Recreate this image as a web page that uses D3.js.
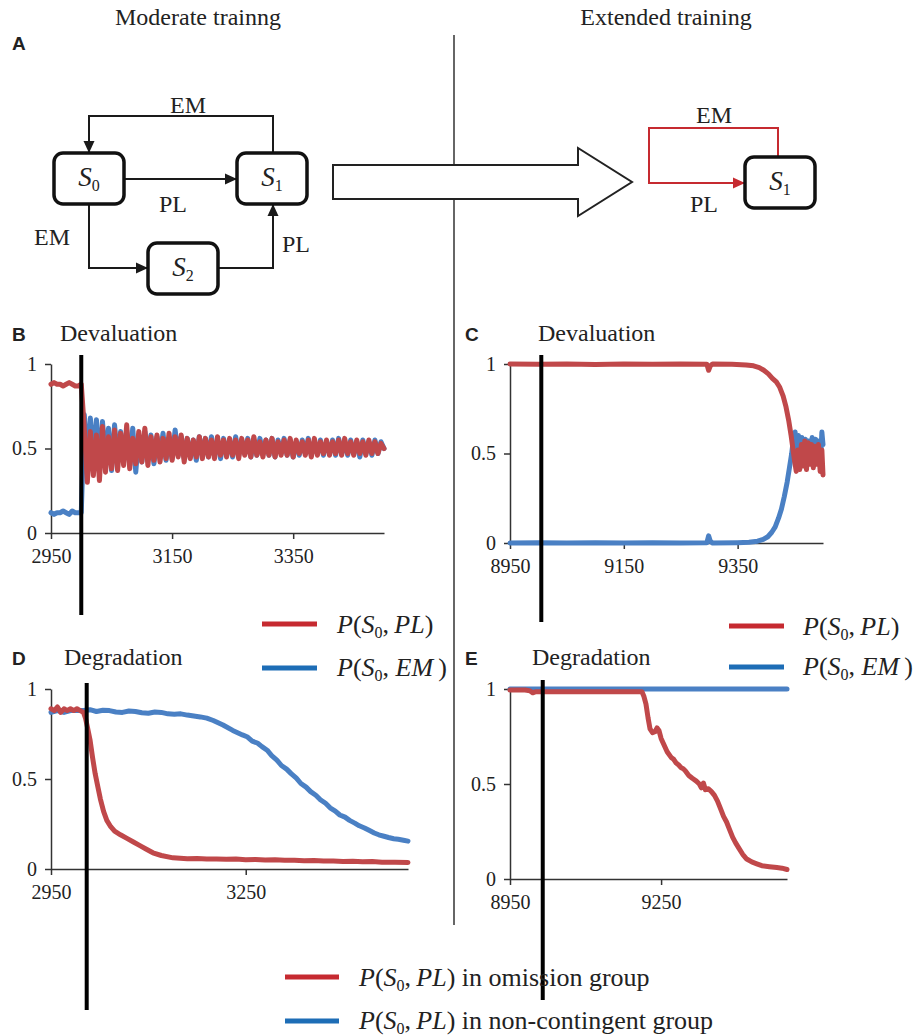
<!DOCTYPE html>
<html>
<head>
<meta charset="utf-8">
<script src="https://cdn.jsdelivr.net/npm/d3@7"></script>
<style>
body { margin: 0; background: #fff; }
</style>
</head>
<body>
<svg id="chart" width="914" height="1036"></svg>
<script>
// ---- data ----

// B: moderate training, devaluation (sampled every 5 trials from 2950)
const bStart = 2950, bStep = 5
const bRed = [
  0.88,0.89,0.88,0.88,0.87,0.88,0.89,0.88,0.87,0.87,0.88,
  0.62,0.30,0.60,0.34,0.58,0.31,0.63,0.36,0.57,0.38,
  0.61,0.37,0.59,0.40,0.64,0.38,0.56,0.41,0.60,0.42,
  0.62,0.40,0.57,0.43,0.58,0.42,0.56,0.44,0.59,0.43,
  0.57,0.45,0.58,0.42,0.56,0.44,0.55,0.45,0.57,0.44,
  0.56,0.45,0.55,0.44,0.57,0.46,0.55,0.45,0.56,0.46,
  0.55,0.44,0.56,0.46,0.55,0.45,0.57,0.46,0.54,0.45,
  0.55,0.46,0.56,0.45,0.54,0.46,0.55,0.46,0.56,0.45,
  0.55,0.47,0.54,0.46,0.55,0.45,0.56,0.46,0.54,0.47,
  0.55,0.46,0.54,0.47,0.55,0.46,0.56,0.47,0.54,0.46,
  0.55,0.47,0.54,0.46,0.55,0.47,0.54,0.47,0.53,0.50
]
const bBlue = [
  0.12,0.11,0.12,0.12,0.13,0.12,0.11,0.13,0.12,0.12,0.12,
  0.70,0.42,0.68,0.45,0.67,0.40,0.66,0.44,0.62,0.37,
  0.64,0.42,0.60,0.44,0.61,0.40,0.62,0.36,0.58,0.42,
  0.60,0.44,0.58,0.41,0.57,0.45,0.59,0.43,0.56,0.44,
  0.61,0.46,0.57,0.44,0.56,0.45,0.55,0.43,0.57,0.46,
  0.56,0.45,0.57,0.46,0.55,0.44,0.56,0.46,0.55,0.45,
  0.57,0.46,0.55,0.47,0.56,0.45,0.55,0.46,0.56,0.47,
  0.55,0.46,0.56,0.45,0.55,0.47,0.56,0.46,0.55,0.45,
  0.54,0.46,0.55,0.47,0.56,0.46,0.54,0.47,0.55,0.46,
  0.54,0.47,0.55,0.46,0.56,0.47,0.54,0.46,0.55,0.47,
  0.54,0.45,0.55,0.47,0.54,0.46,0.55,0.47,0.54,0.50
]

// C: extended training, devaluation  [trial, probability]
const cRed = [[8950,1.0],[9000,0.998],[9050,1.0],[9100,0.997],[9150,1.0],[9200,0.998],[9250,1.0],
  [9296,0.998],[9299,0.965],[9302,0.99],[9306,1.0],[9340,0.998],[9365,0.995],[9378,0.99],[9388,0.98],
  [9396,0.965],[9404,0.945],[9411,0.92],[9418,0.90],[9424,0.87],[9430,0.82],[9435,0.76],[9440,0.68],
  [9444,0.60],[9447,0.53],[9450,0.46],[9453,0.40],[9456,0.52],[9459,0.41],[9462,0.55],[9465,0.43],
  [9468,0.57],[9471,0.41],[9474,0.56],[9477,0.44],[9480,0.55],[9483,0.42],[9486,0.54],[9489,0.44],
  [9492,0.55],[9495,0.40],[9498,0.52],[9500,0.38]]
const cBlue = [[8950,0],[9000,0.002],[9050,0],[9100,0.002],[9150,0],[9200,0.002],[9250,0],
  [9296,0.002],[9299,0.04],[9302,0.01],[9306,0],[9350,0.002],[9370,0.004],[9385,0.01],[9395,0.02],
  [9403,0.035],[9410,0.06],[9416,0.09],[9422,0.14],[9427,0.19],[9432,0.26],[9437,0.34],[9441,0.42],
  [9445,0.50],[9448,0.58],[9451,0.62],[9454,0.50],[9457,0.60],[9460,0.47],[9463,0.59],[9466,0.48],
  [9469,0.58],[9472,0.46],[9475,0.57],[9478,0.49],[9481,0.59],[9484,0.47],[9487,0.58],[9490,0.50],
  [9493,0.57],[9496,0.48],[9498,0.62],[9500,0.55]]

// D: moderate training, degradation
const dRed = [[2950,0.89],[2955,0.88],[2960,0.90],[2965,0.87],[2970,0.89],[2975,0.88],[2980,0.89],
  [2985,0.88],[2990,0.89],[2995,0.88],[3000,0.87],[3003,0.84],[3006,0.79],[3010,0.72],[3014,0.62],
  [3018,0.53],[3022,0.46],[3026,0.39],[3031,0.32],[3036,0.27],[3042,0.235],[3048,0.21],[3057,0.19],
  [3067,0.17],[3077,0.15],[3087,0.13],[3097,0.11],[3107,0.09],[3120,0.075],[3138,0.062],[3160,0.057],
  [3175,0.058],[3190,0.055],[3205,0.056],[3220,0.054],[3235,0.055],[3250,0.052],[3265,0.053],
  [3280,0.05],[3295,0.051],[3310,0.048],[3325,0.049],[3340,0.046],[3355,0.047],[3370,0.045],
  [3385,0.044],[3400,0.042],[3415,0.043],[3430,0.04],[3445,0.041],[3460,0.038],[3480,0.037],[3500,0.036]]
const dBlue = [[2950,0.87],[2960,0.88],[2970,0.87],[2980,0.88],[2990,0.88],[3000,0.88],[3010,0.885],
  [3020,0.875],[3030,0.882],[3040,0.88],[3050,0.872],[3060,0.87],[3070,0.878],[3080,0.875],[3090,0.868],
  [3100,0.865],[3110,0.872],[3120,0.87],[3130,0.862],[3140,0.86],[3150,0.862],[3160,0.855],[3170,0.85],
  [3180,0.845],[3190,0.838],[3200,0.825],[3215,0.80],[3230,0.77],[3245,0.745],[3252,0.735],[3260,0.71],
  [3268,0.70],[3275,0.68],[3283,0.66],[3290,0.63],[3298,0.605],[3305,0.575],[3313,0.555],[3320,0.53],
  [3328,0.505],[3335,0.475],[3343,0.455],[3350,0.43],[3358,0.41],[3365,0.385],[3373,0.365],[3380,0.34],
  [3388,0.322],[3395,0.30],[3403,0.288],[3410,0.27],[3418,0.255],[3425,0.24],[3433,0.228],[3440,0.215],
  [3448,0.2],[3455,0.19],[3463,0.182],[3470,0.175],[3478,0.168],[3485,0.165],[3493,0.16],[3500,0.155]]

// E: extended training, degradation
const eRed = [[8950,0.995],[8980,0.995],[8990,0.99],[8995,0.98],[9000,0.985],[9050,0.985],[9100,0.985],
  [9150,0.985],[9200,0.985],[9212,0.985],[9216,0.96],[9220,0.92],[9224,0.85],[9228,0.79],[9233,0.77],
  [9238,0.775],[9242,0.795],[9246,0.78],[9250,0.74],[9255,0.71],[9262,0.67],[9270,0.64],[9275,0.63],
  [9280,0.61],[9285,0.6],[9290,0.585],[9294,0.58],[9298,0.57],[9305,0.545],[9312,0.53],[9320,0.515],
  [9326,0.50],[9330,0.48],[9334,0.505],[9338,0.47],[9344,0.475],[9350,0.46],[9356,0.44],[9362,0.41],
  [9368,0.37],[9374,0.33],[9380,0.30],[9386,0.26],[9392,0.22],[9398,0.19],[9405,0.16],[9412,0.13],
  [9420,0.105],[9430,0.09],[9440,0.08],[9450,0.07],[9465,0.065],[9480,0.06],[9490,0.057],[9500,0.05]]
const eBlue = [[8950,1.0],[9100,1.0],[9250,1.0],[9400,1.0],[9500,1.0]]

const yTicks = [0, 0.5, 1]
const bTicks = [2950, 3150, 3350]
const cTicks = [8950, 9150, 9350]
const dTicks = [2950, 3250]
const eTicks = [8950, 9250]

const red = "#c0484a"
const blue = "#4a80c4"
const legendRed = "#c62a30"
const legendBlue = "#1d6db6"

const serif = "'Liberation Serif', 'DejaVu Serif', serif"
const sans = "'Liberation Sans', Arial, sans-serif"

// ---- canvas ----
const svg = d3.select("#chart")
  .style("font-family", serif)
const defs = svg.append("defs")

function addMarker(id, color) {
  defs.append("marker")
    .attr("id", id)
    .attr("viewBox", "0 0 12 12")
    .attr("refX", 12).attr("refY", 6)
    .attr("markerWidth", 12).attr("markerHeight", 12)
    .attr("markerUnits", "userSpaceOnUse")
    .attr("orient", "auto")
    .append("path")
    .attr("d", "M0,0.5 L12,6 L0,11.5 Z")
    .attr("fill", color)
}
addMarker("arrow-black", "#1a1a1a")
addMarker("arrow-red", "#c62a30")

const addText = (x, y, size, s) => svg.append("text")
  .attr("x", x).attr("y", y)
  .style("font-family", serif).style("font-size", size + "px")
  .attr("fill", "#222").text(s)
const addLetter = (x, y, s) => svg.append("text")
  .attr("x", x).attr("y", y)
  .style("font-family", sans).style("font-size", "19px").style("font-weight", "bold")
  .attr("fill", "#222").text(s)

// headers
addText(198, 25, 24, "Moderate trainng").attr("text-anchor", "middle")
addText(666, 25, 24, "Extended training").attr("text-anchor", "middle")

// divider
svg.append("line")
  .attr("x1", 454).attr("x2", 454).attr("y1", 35).attr("y2", 925)
  .attr("stroke", "#333").attr("stroke-width", 1.5)

// ---- panel A: state diagrams ----
addLetter(12, 50, "A")

const diagram = svg.append("g")
const edge = (d, color, marker) => diagram.append("path")
  .attr("d", d).attr("fill", "none")
  .attr("stroke", color).attr("stroke-width", 2)
  .attr("marker-end", `url(#${marker})`)

edge("M273,153 V116 H89 V153", "#1a1a1a", "arrow-black")
edge("M124,179 H237", "#1a1a1a", "arrow-black")
edge("M89,204 V268 H148", "#1a1a1a", "arrow-black")
edge("M218,268 H273 V204", "#1a1a1a", "arrow-black")
edge("M778,157 V128 H649 V183 H745", "#c62a30", "arrow-red")

function stateBox(x, y, sub) {
  diagram.append("rect")
    .attr("x", x).attr("y", y).attr("width", 70).attr("height", 51)
    .attr("rx", 9).attr("fill", "#fff")
    .attr("stroke", "#111").attr("stroke-width", 3.5)
  const t = diagram.append("text")
    .attr("x", x + 35).attr("y", y + 33)
    .attr("text-anchor", "middle")
    .style("font-family", serif).style("font-size", "27px").attr("fill", "#222")
  t.append("tspan").style("font-style", "italic").text("S")
  t.append("tspan").style("font-size", "16px").attr("dy", 5).text(sub)
}
stateBox(54, 153, "0")
stateBox(237, 153, "1")
stateBox(148, 243, "2")
stateBox(745, 157, "1")

const edgeLabel = (x, y, s, anchor) => addText(x, y, 24, s)
  .attr("text-anchor", anchor || "middle")
edgeLabel(188, 113, "EM")
edgeLabel(173, 212, "PL")
edgeLabel(52, 245, "EM")
edgeLabel(282, 252, "PL", "start")
edgeLabel(714, 123, "EM")
edgeLabel(704, 212, "PL")

// big hollow arrow
svg.append("path")
  .attr("d", "M333,165 H578 V148 L632,182 L578,216 V199 H333 Z")
  .attr("fill", "#fff").attr("stroke", "#222").attr("stroke-width", 2)

// ---- line panels ----
function styleAxis(sel) {
  sel.select(".domain").attr("stroke", "#333").attr("stroke-width", 1.5)
  sel.selectAll(".tick line").attr("stroke", "#333").attr("stroke-width", 1.5)
  sel.selectAll(".tick text")
    .style("font-family", serif).style("font-size", "20px").attr("fill", "#222")
}

function panel(cfg) {
  const g = svg.append("g")
  addLetter(cfg.letterX, cfg.titleY, cfg.letter)
  addText(cfg.titleX, cfg.titleY, 24, cfg.title)

  const x = d3.scaleLinear().domain([cfg.start, cfg.end]).range([cfg.left, cfg.right])
  const y = d3.scaleLinear().domain([0, 1]).range([cfg.bottom, cfg.top])

  g.append("g")
    .attr("transform", `translate(0,${cfg.bottom})`)
    .call(d3.axisBottom(x).tickValues(cfg.ticks).tickFormat(d3.format("d"))
      .tickSize(6).tickSizeOuter(0).tickPadding(10))
    .call(styleAxis)
  g.append("g")
    .attr("transform", `translate(${cfg.left},0)`)
    .call(d3.axisLeft(y).tickValues(yTicks).tickFormat(d3.format(""))
      .tickSize(6).tickSizeOuter(0).tickPadding(8))
    .call(styleAxis)

  const line = d3.line().x(d => x(d[0])).y(d => y(d[1]))
  cfg.series.forEach(s => {
    g.append("path")
      .attr("d", line(s.data))
      .attr("fill", "none")
      .attr("stroke", s.color)
      .attr("stroke-width", 5)
      .attr("stroke-linejoin", "round")
      .attr("stroke-linecap", "round")
  })

  g.append("line")
    .attr("x1", x(cfg.onset)).attr("x2", x(cfg.onset))
    .attr("y1", cfg.lineTop).attr("y2", cfg.lineBottom)
    .attr("stroke", "#000").attr("stroke-width", 4)
}

const stepped = values => values.map((v, i) => [bStart + i * bStep, v])

panel({
  letter: "B", letterX: 12, title: "Devaluation", titleX: 60, titleY: 341,
  start: 2950, end: 3500, left: 51, right: 384, top: 364, bottom: 533,
  ticks: bTicks, onset: 3000, lineTop: 355, lineBottom: 615,
  series: [{ data: stepped(bBlue), color: blue }, { data: stepped(bRed), color: red }]
})
panel({
  letter: "C", letterX: 465, title: "Devaluation", titleX: 538, titleY: 341,
  start: 8950, end: 9500, left: 510, right: 823, top: 364, bottom: 543,
  ticks: cTicks, onset: 9005, lineTop: 355, lineBottom: 622,
  series: [{ data: cBlue, color: blue }, { data: cRed, color: red }]
})
panel({
  letter: "D", letterX: 12, title: "Degradation", titleX: 64, titleY: 665,
  start: 2950, end: 3500, left: 51, right: 408, top: 689, bottom: 869,
  ticks: dTicks, onset: 3005, lineTop: 683, lineBottom: 1010,
  series: [{ data: dBlue, color: blue }, { data: dRed, color: red }]
})
panel({
  letter: "E", letterX: 465, title: "Degradation", titleX: 532, titleY: 665,
  start: 8950, end: 9500, left: 510, right: 787, top: 689, bottom: 879,
  ticks: eTicks, onset: 9015, lineTop: 680, lineBottom: 1000,
  series: [{ data: eBlue, color: blue }, { data: eRed, color: red }]
})

// ---- legends ----
function mathLabel(x, y, action, tail) {
  const t = addText(x, y, 26, null)
  t.append("tspan").style("font-style", "italic").text("P")
  t.append("tspan").text("(")
  t.append("tspan").style("font-style", "italic").text("S")
  t.append("tspan").style("font-size", "16px").attr("dy", 5).text("0")
  t.append("tspan").attr("dy", -5).text(action === "EM" ? ", " : ",\u2009")
  t.append("tspan").style("font-style", "italic").text(action)
  t.append("tspan").text(action === "EM" ? "\u2009)" : ")")
  if (tail) t.append("tspan").text(" " + tail)
}
function legendItem(x1, x2, y, color, textX, textY, action, tail) {
  svg.append("line")
    .attr("x1", x1).attr("x2", x2).attr("y1", y).attr("y2", y)
    .attr("stroke", color).attr("stroke-width", 5)
  mathLabel(textX, textY, action, tail)
}
legendItem(262, 317, 624, legendRed, 337, 633, "PL")
legendItem(262, 317, 668, legendBlue, 337, 676, "EM")
legendItem(729, 784, 626, legendRed, 803, 635, "PL")
legendItem(729, 784, 667, legendBlue, 803, 675, "EM")
legendItem(285, 339, 977, legendRed, 359, 986, "PL", "in omission group")
legendItem(285, 339, 1021, legendBlue, 359, 1029, "PL", "in non-contingent group")
</script>
</body>
</html>
